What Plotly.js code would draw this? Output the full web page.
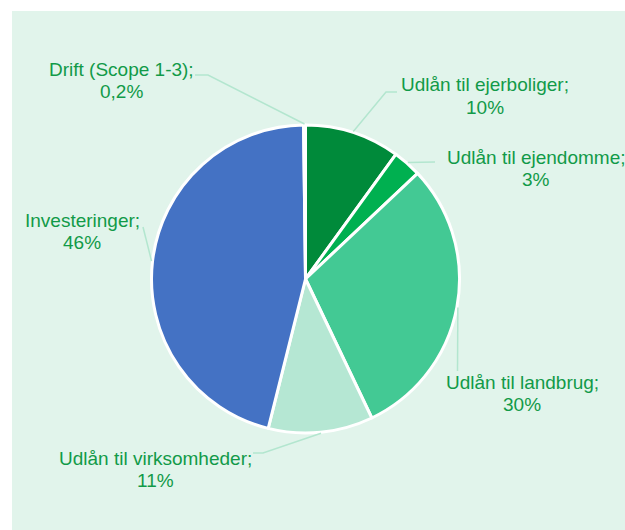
<!DOCTYPE html>
<html>
<head>
<meta charset="utf-8">
<script src="https://cdn.plot.ly/plotly-3.0.1.min.js"></script>
<style>
  html, body { margin: 0; padding: 0; background: #ffffff; }
  #chart { width: 625px; height: 530px; }
</style>
</head>
<body>
<div id="chart"></div>
<script>
// ---- data ----
const categories = ["Udlån til ejerboliger", "Udlån til ejendomme", "Udlån til landbrug",
                    "Udlån til virksomheder", "Investeringer", "Drift (Scope 1-3)"];
const values = [10, 3, 30, 11, 46, 0.2];
const colors = ["#008a3a", "#00b050", "#43c994", "#b5e7d3", "#4472c4", "#2e75b6"];

// ---- layout geometry (pixels) ----
const W = 625, H = 530;
const cx = 305.5, cy = 279, R = 154;
// label centers [x, y of line 1, y of line 2]
const labelPos = [[485, 85, 107], [536, 157, 179], [522, 382, 404],
                  [155, 458, 480], [82, 220, 242], [121, 70, 92]];
// leader-line waypoints after the slice edge (pixels)
const leaderPts = [[[386, 92], [397, 92]], [[435, 162]], [[457.5, 371]],
                   [[263, 453], [253, 453]], [[143, 227]], [[208, 75], [195, 75]]];

const px = x => x / W;
const py = y => 1 - y / H;

const total = values.reduce((a, b) => a + b, 0);
const pctText = values.map(v => String(v).replace('.', ',') + '%');

// mid angles of slices (clockwise from 12 o'clock)
let cum = 0;
const midAngles = values.map(v => { const a = (cum + v / 2) / total * 2 * Math.PI; cum += v; return a; });

const annotations = [];
const shapes = [{
  type: 'rect', xref: 'paper', yref: 'paper', layer: 'below',
  x0: px(12), x1: 1, y0: 0, y1: py(11),
  fillcolor: '#e1f4eb', line: { width: 0 }
}];
const textColor = '#119a48';
const fontFam = 'Liberation Sans, Arial, sans-serif';
const fontSize = 19;

categories.forEach((c, i) => {
  const p = labelPos[i];
  annotations.push({ xref: 'paper', yref: 'paper', x: px(p[0]), y: py(p[1]), text: c + ';',
    showarrow: false, xanchor: 'center', yanchor: 'middle',
    font: { family: fontFam, size: fontSize, color: textColor } });
  annotations.push({ xref: 'paper', yref: 'paper', x: px(p[0]), y: py(p[2]), text: pctText[i],
    showarrow: false, xanchor: 'center', yanchor: 'middle',
    font: { family: fontFam, size: fontSize, color: textColor } });
  const a = midAngles[i];
  const sx = cx + (R + 1) * Math.sin(a), sy = cy - (R + 1) * Math.cos(a);
  let path = 'M' + px(sx) + ',' + py(sy);
  leaderPts[i].forEach(q => { path += ' L' + px(q[0]) + ',' + py(q[1]); });
  shapes.push({ type: 'path', xref: 'paper', yref: 'paper', path: path,
    line: { color: '#b3e6cf', width: 1.5 } });
});

const trace = {
  type: 'pie',
  labels: categories,
  values: values,
  sort: false,
  direction: 'clockwise',
  rotation: 0,
  textinfo: 'none',
  hoverinfo: 'none',
  marker: { colors: colors, line: { color: '#ffffff', width: 3 } },
  domain: { x: [px(cx - R), px(cx + R)], y: [py(cy + R), py(cy - R)] },
  showlegend: false
};

const layout = {
  width: W, height: H,
  margin: { l: 0, r: 0, t: 0, b: 0 },
  paper_bgcolor: '#ffffff',
  plot_bgcolor: '#ffffff',
  showlegend: false,
  shapes: shapes,
  annotations: annotations
};

Plotly.newPlot('chart', [trace], layout, { displayModeBar: false, staticPlot: true });
</script>
</body>
</html>
